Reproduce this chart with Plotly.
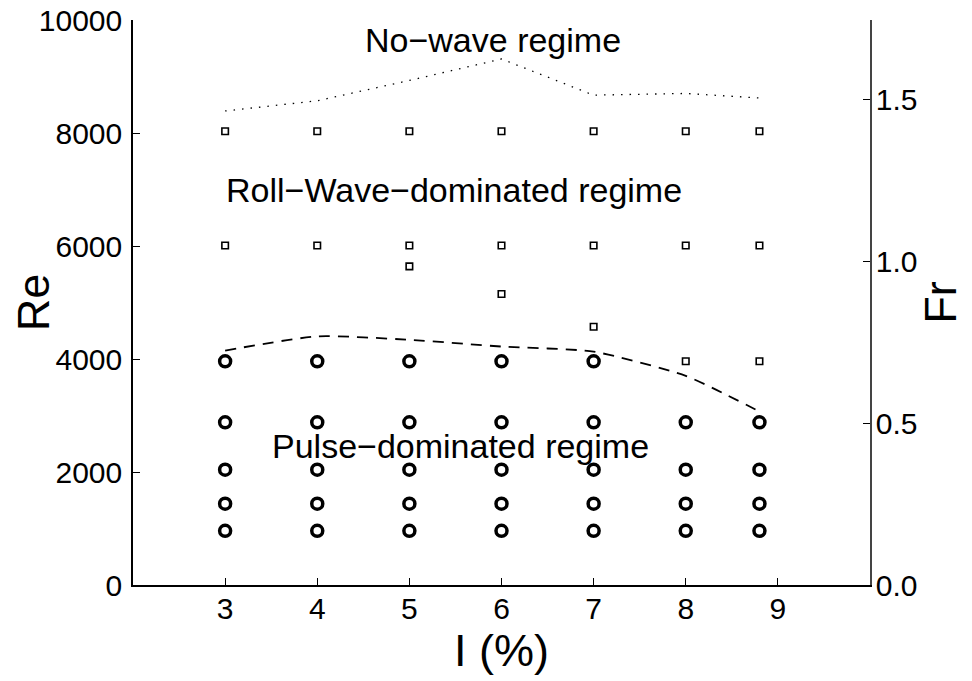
import plotly.graph_objects as go

# Data
slopes = [3, 4, 5, 6, 7, 8, 8.8]
pulse_re_levels = [960, 1440, 2040, 2880, 3960]
# pulse-dominated (circles)
pulse_x = [3]*5 + [4]*5 + [5]*5 + [6]*5 + [7]*5 + [8]*4 + [8.8]*4
pulse_y = (pulse_re_levels * 5) + pulse_re_levels[:4] + pulse_re_levels[:4]

# roll-wave-dominated (squares)
roll_x = slopes + slopes + [5, 6, 7, 8, 8.8]
roll_y = [8030]*7 + [6010]*7 + [5640, 5150, 4570, 3960, 3960]

# boundary lines
dash_x = [3, 4, 5, 6, 7, 8, 8.8]
dash_y = [4150, 4400, 4340, 4220, 4130, 3700, 3070]
dot_x = [3, 4, 5, 6, 7, 8, 8.8]
dot_y = [8390, 8570, 8930, 9310, 8670, 8700, 8620]

x_ticks = [3, 4, 5, 6, 7, 8, 9]
re_ticks = [0, 2000, 4000, 6000, 8000, 10000]
re_ticktext = ["0", "2000", "4000", "6000", "8000", "10000"]
fr_ticks = [0.0, 0.5, 1.0, 1.5]
fr_ticktext = ["0.0", "0.5", "1.0", "1.5"]

FONT = "Liberation Sans, Arial, Helvetica, sans-serif"
TICK = 30
TITLE = 45
ANN = 34

fig = go.Figure()
fig.add_trace(go.Scatter(x=pulse_x, y=pulse_y, mode="markers",
                         marker=dict(symbol="circle-open", size=11, color="black",
                                     line=dict(width=3.5, color="black")),
                         showlegend=False, hoverinfo="skip"))
fig.add_trace(go.Scatter(x=roll_x, y=roll_y, mode="markers",
                         marker=dict(symbol="square-open", size=6.5, color="black",
                                     line=dict(width=1.6, color="black")),
                         showlegend=False, hoverinfo="skip"))
fig.add_trace(go.Scatter(x=dash_x, y=dash_y, mode="lines",
                         line=dict(color="black", width=1.8, dash="11px,8px", shape="spline", smoothing=0.6),
                         showlegend=False, hoverinfo="skip"))
fig.add_trace(go.Scatter(x=dot_x, y=dot_y, mode="lines",
                         line=dict(color="black", width=1.3, dash="1.5px,7px"),
                         showlegend=False, hoverinfo="skip"))
# dummy trace to activate secondary axis
fig.add_trace(go.Scatter(x=[None], y=[None], yaxis="y2", showlegend=False, hoverinfo="skip"))

fig.add_annotation(x=5.91, y=9640, text="No−wave regime", showarrow=False,
                   font=dict(size=ANN, family=FONT, color="black"))
fig.add_annotation(x=5.48, y=7000, text="Roll−Wave−dominated regime", showarrow=False,
                   font=dict(size=ANN, family=FONT, color="black"))
fig.add_annotation(x=5.55, y=2460, text="Pulse−dominated regime", showarrow=False,
                   font=dict(size=ANN, family=FONT, color="black"))

fig.update_layout(
    width=964, height=673,
    margin=dict(l=125, r=102, t=12, b=96),
    paper_bgcolor="white", plot_bgcolor="white",
    font=dict(family=FONT, color="black", size=TICK),
    xaxis=dict(range=[2, 10], tickvals=x_ticks, ticks="inside", ticklen=7,
               tickcolor="black", showline=True, linecolor="black", linewidth=1.5,
               showgrid=False, zeroline=False, tickfont=dict(size=TICK),
               automargin=False, ticklabelstandoff=-4, ticklabeloverflow="allow",
               title=dict(text="I (%)", font=dict(size=TITLE), standoff=0)),
    yaxis=dict(range=[0, 10000], tickvals=re_ticks, ticktext=re_ticktext, ticks="inside", ticklen=7,
               tickcolor="black", showline=True, linecolor="black", linewidth=1.5,
               showgrid=False, zeroline=False, tickfont=dict(size=TICK),
               automargin=False, ticklabelstandoff=3, ticklabeloverflow="allow",
               title=dict(text="Re", font=dict(size=TITLE), standoff=6)),
    yaxis2=dict(range=[0, 1.746], tickvals=fr_ticks, ticktext=fr_ticktext,
                overlaying="y", side="right", ticks="inside", ticklen=7,
                tickcolor="black", showline=True, linecolor="#444", linewidth=1.5,
                showgrid=False, zeroline=False, tickfont=dict(size=TICK),
                automargin=False, ticklabelstandoff=-2, ticklabeloverflow="allow",
                title=dict(text="Fr", font=dict(size=TITLE), standoff=8)),
)

fig.write_html("out.html")
